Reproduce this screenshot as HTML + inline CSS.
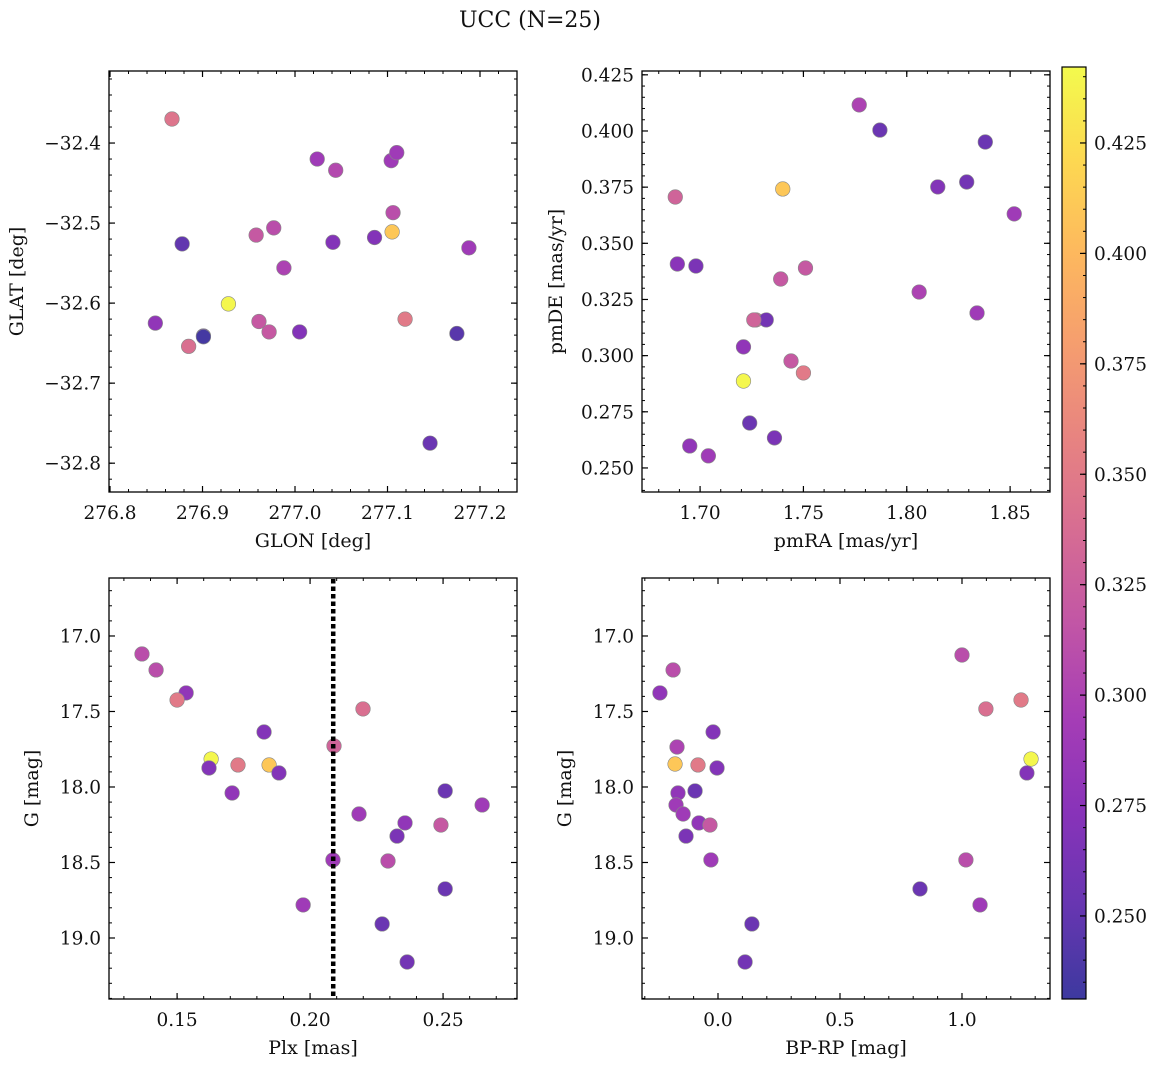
<!DOCTYPE html>
<html><head><meta charset="utf-8">
<style>
body{margin:0;background:#fff;}
svg text{font-family:"DejaVu Serif","Liberation Serif",serif;fill:#111;}
</style></head>
<body>
<svg id="fig" width="1160" height="1067" xmlns="http://www.w3.org/2000/svg">
<text x="530" y="27" font-size="22" text-anchor="middle">UCC (N=25)</text>
</svg>
<script>
// ---- data ----
const tlLon=[276.867,277.024,277.044,277.104,277.110,277.106,277.105,276.878,276.958,276.977,277.041,277.086,277.188,276.988,276.928,276.849,276.961,276.972,277.005,276.885,276.901,276.901,277.119,277.175,277.146];
const tlLat=[-32.370,-32.420,-32.434,-32.422,-32.412,-32.487,-32.511,-32.526,-32.515,-32.506,-32.524,-32.518,-32.531,-32.556,-32.601,-32.625,-32.623,-32.636,-32.636,-32.654,-32.641,-32.642,-32.620,-32.638,-32.775];
const tlC=[0.345,0.29,0.305,0.29,0.29,0.31,0.41,0.25,0.32,0.31,0.27,0.27,0.29,0.30,0.44,0.28,0.32,0.32,0.27,0.34,0.255,0.235,0.35,0.245,0.255];
const trRA=[1.777,1.787,1.838,1.815,1.829,1.852,1.688,1.740,1.689,1.698,1.751,1.739,1.806,1.834,1.727,1.732,1.721,1.744,1.750,1.721,1.724,1.695,1.736,1.704,1.726];
const trDE=[0.4116,0.4004,0.3951,0.3751,0.3773,0.3631,0.3706,0.3742,0.3408,0.3399,0.3390,0.3341,0.3283,0.3190,0.3159,0.3159,0.3039,0.2976,0.2923,0.2887,0.2700,0.2598,0.2634,0.2554,0.3159];
const trC=[0.30,0.255,0.255,0.27,0.26,0.29,0.33,0.41,0.275,0.265,0.32,0.32,0.30,0.29,0.34,0.26,0.28,0.32,0.35,0.44,0.255,0.28,0.265,0.29,0.33];
const blPlx=[0.1368,0.1421,0.1534,0.1500,0.2199,0.1827,0.2090,0.1628,0.1729,0.1846,0.1620,0.1883,0.1707,0.2508,0.2647,0.2184,0.2357,0.2492,0.2327,0.2086,0.2293,0.2508,0.1974,0.2271,0.2365];
const blG=[17.119,17.225,17.377,17.424,17.483,17.636,17.728,17.815,17.854,17.854,17.874,17.907,18.040,18.026,18.119,18.179,18.238,18.252,18.325,18.483,18.490,18.675,18.781,18.907,19.159];
const blC=[0.31,0.31,0.28,0.35,0.34,0.27,0.33,0.44,0.35,0.41,0.27,0.27,0.28,0.255,0.29,0.29,0.28,0.32,0.265,0.29,0.31,0.255,0.29,0.255,0.26];
const plxLine=[0.2087];
const brBR=[-0.184,-0.238,1.000,1.098,1.242,-0.168,-0.020,-0.176,-0.082,-0.004,1.283,1.266,-0.164,-0.094,-0.172,-0.143,-0.078,-0.033,-0.131,-0.029,1.016,0.828,1.074,0.139,0.111];
const brG=[17.225,17.377,17.126,17.483,17.424,17.735,17.636,17.848,17.854,17.874,17.815,17.907,18.040,18.026,18.119,18.179,18.238,18.252,18.325,18.483,18.483,18.675,18.781,18.907,19.159];
const brC=[0.31,0.28,0.31,0.34,0.35,0.30,0.27,0.41,0.35,0.27,0.44,0.27,0.28,0.255,0.29,0.29,0.28,0.32,0.265,0.29,0.31,0.255,0.29,0.255,0.26];
const cbTicks=[0.250,0.275,0.300,0.325,0.350,0.375,0.400,0.425];
const vmin=0.2312,vmax=0.4422;

const NS="http://www.w3.org/2000/svg";
const svg=document.getElementById('fig');
function mk(tag,attrs,parent){const e=document.createElementNS(NS,tag);for(const k in attrs)e.setAttribute(k,attrs[k]);(parent||svg).appendChild(e);return e;}
const stops=["#0d0887","#41049d","#6a00a8","#8f0da4","#b12a90","#cc4778","#e16462","#f2844b","#fca636","#fcce25","#f0f921"];
function hex(h){return [1,3,5].map(i=>parseInt(h.substr(i,2),16));}
function cmap(v){let t=(v-vmin)/(vmax-vmin);t=Math.max(0,Math.min(1,t));const p=t*10,i=Math.min(9,Math.floor(p)),f=p-i;const a=hex(stops[i]),b=hex(stops[i+1]);const c=a.map((x,k)=>Math.round((x+(b[k]-x)*f)*0.8+255*0.2));return `rgb(${c[0]},${c[1]},${c[2]})`;}
function fmt(v,d){return v.toFixed(d).replace('-','\u2212');}
const TF=18.5, LF=19;

function panel(name,L,T,R,B,x0,x1,y0,y1,xt,xd,xminor,yt,yd,yminor,xlab,ylab,ylx,xs,ys,cs){
  const g=mk('g',{});
  
  
  const X=v=>L+(v-x0)/(x1-x0)*(R-L), Y=v=>T+(v-y0)/(y1-y0)*(B-T);
  for(let i=0;i<xs.length;i++){
    const c=mk('circle',{cx:X(xs[i]),cy:Y(ys[i]),r:7.3,fill:cmap(cs[i]),stroke:'#888','stroke-width':0.6},g);
    
    
  }
  const fr=mk('rect',{x:L,y:T,width:R-L,height:B-T,fill:'none',stroke:'#000','stroke-width':1.3},g);
  
  
  const lo=Math.min(x0,x1),hi=Math.max(x0,x1);
  for(let v=Math.ceil(lo/xminor-1e-6)*xminor;v<=hi;v+=xminor){const x=X(v);mk('line',{x1:x,x2:x,y1:B,y2:B-3,stroke:'#000'},g);mk('line',{x1:x,x2:x,y1:T,y2:T+3,stroke:'#000'},g);}
  const ylo=Math.min(y0,y1),yhi=Math.max(y0,y1);
  for(let v=Math.ceil(ylo/yminor-1e-6)*yminor;v<=yhi;v+=yminor){const y=Y(v);mk('line',{x1:L,x2:L+3,y1:y,y2:y,stroke:'#000'},g);mk('line',{x1:R,x2:R-3,y1:y,y2:y,stroke:'#000'},g);}
  xt.forEach(v=>{const x=X(v);mk('line',{x1:x,x2:x,y1:B,y2:B-6,stroke:'#000','stroke-width':1.2},g);mk('line',{x1:x,x2:x,y1:T,y2:T+6,stroke:'#000','stroke-width':1.2},g);
    const t=mk('text',{x:x,y:B+27,'font-size':TF,'text-anchor':'middle'},g);t.textContent=fmt(v,xd);});
  yt.forEach(v=>{const y=Y(v);mk('line',{x1:L,x2:L+6,y1:y,y2:y,stroke:'#000','stroke-width':1.2},g);mk('line',{x1:R,x2:R-6,y1:y,y2:y,stroke:'#000','stroke-width':1.2},g);
    const t=mk('text',{x:L-8,y:y+6.5,'font-size':TF,'text-anchor':'end'},g);t.textContent=fmt(v,yd);});
  const xl=mk('text',{x:(L+R)/2,y:B+55,'font-size':LF,'text-anchor':'middle'},g);xl.textContent=xlab;
  
  const yl=mk('text',{x:0,y:0,'font-size':LF,'text-anchor':'middle',transform:`translate(${ylx},${(T+B)/2}) rotate(-90)`},g);yl.textContent=ylab;
  
  return {X,Y,g};
}
panel('panel-glon-glat',109,71,517,492,276.7989,277.24,-32.31,-32.836,[276.8,276.9,277.0,277.1,277.2],1,0.02,[-32.4,-32.5,-32.6,-32.7,-32.8],1,0.02,'GLON [deg]','GLAT [deg]',23,tlLon,tlLat,tlC);
panel('panel-pmra-pmde',642,71,1050,492,1.6719,1.8693,0.4267,0.2393,[1.70,1.75,1.80,1.85],2,0.01,[0.250,0.275,0.300,0.325,0.350,0.375,0.400,0.425],3,0.005,'pmRA [mas/yr]','pmDE [mas/yr]',562,trRA,trDE,trC);
const bl=panel('panel-plx-g',109,578,517,999,0.1244,0.2778,16.616,19.404,[0.15,0.20,0.25],2,0.01,[17.0,17.5,18.0,18.5,19.0],1,0.1,'Plx [mas]','G [mag]',38,blPlx,blG,blC);
plxLine.forEach(v=>{const l=mk('line',{x1:bl.X(v),x2:bl.X(v),y1:579,y2:998,stroke:'#000','stroke-width':4.5,'stroke-dasharray':'4.5,3'});
  });
panel('panel-bprp-g',642,578,1050,999,-0.3115,1.3607,16.616,19.404,[0.0,0.5,1.0],1,0.1,[17.0,17.5,18.0,18.5,19.0],1,0.1,'BP-RP [mag]','G [mag]',571,brBR,brG,brC);

const cb=mk('g',{});


const defs=mk('defs',{},cb);
const lg=mk('linearGradient',{id:'pl',x1:0,y1:1,x2:0,y2:0},defs);
stops.forEach((s,i)=>{const c=hex(s).map(x=>Math.round(x*0.8+51));mk('stop',{offset:i/10,'stop-color':`rgb(${c})`},lg);});
const CT=67,CB=999,CL=1062,CR=1086;
mk('rect',{x:CL,y:CT,width:CR-CL,height:CB-CT,fill:'url(#pl)',stroke:'#000','stroke-width':1.2},cb);
const CY=v=>CB-(v-vmin)/(vmax-vmin)*(CB-CT);
for(let v=0.235;v<=vmax;v+=0.005){const y=CY(v);mk('line',{x1:CR,x2:CR-3,y1:y,y2:y,stroke:'#000'},cb);}
cbTicks.forEach(v=>{const y=CY(v);mk('line',{x1:CR,x2:CR-6,y1:y,y2:y,stroke:'#000','stroke-width':1.2},cb);
  const t=mk('text',{x:CR+8,y:y+6.5,'font-size':TF},cb);t.textContent=v.toFixed(3);
  });
</script>
</body></html>
